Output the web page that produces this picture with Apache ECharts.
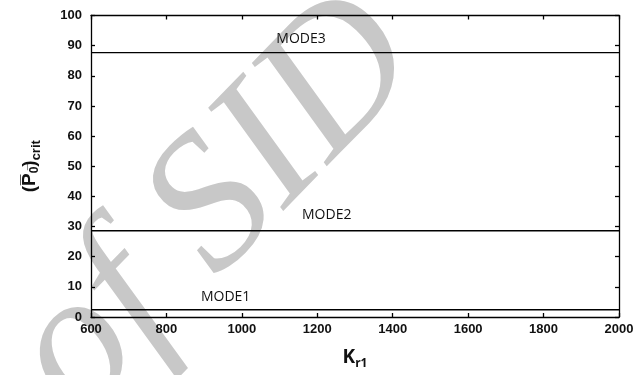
<!DOCTYPE html>
<html><head><meta charset="utf-8">
<script src="https://cdn.jsdelivr.net/npm/echarts@6/dist/echarts.min.js"></script>
<style>html,body{margin:0;padding:0;background:#fff}#c{width:644px;height:375px}</style>
</head><body><div id="c"></div>
<script>
// Data
const xRange = [600, 2000];
const xTicks = [600, 800, 1000, 1200, 1400, 1600, 1800, 2000];
const yTicks = [0, 10, 20, 30, 40, 50, 60, 70, 80, 90, 100];
const modeNames = ['MODE1', 'MODE2', 'MODE3'];
const modeValues = [2.4, 28.6, 87.7];
const modeLabelX = [957, 1225, 1157];
const modeLabelY = [6.7, 33.9, 92.2];

const chart = echarts.init(document.getElementById('c'));
const tickFont = {fontFamily: 'Liberation Sans, Arial, sans-serif', fontSize: 13, fontWeight: 'bold', color: '#111'};
const lineStyle = {color: '#000', width: 1.3};

const series = modeNames.map((n, i) => ({
  type: 'line', name: n, symbol: 'none', silent: true,
  data: xRange.map(x => [x, modeValues[i]]),
  lineStyle: {color: '#000', width: 1.3},
  z: 10,
  markPoint: {
    symbol: 'circle', symbolSize: 0, silent: true,
    data: [{coord: [modeLabelX[i], modeLabelY[i]], value: n}],
    label: {show: true, position: 'inside', formatter: n,
      fontFamily: 'Open Sans, sans-serif', fontSize: 14, color: '#111'}
  }
}));

chart.setOption({
  animation: false,
  backgroundColor: '#fff',
  grid: {left: 91, right: 25, top: 15.5, bottom: 57.5, show: false},
  xAxis: [{
    type: 'value', min: 600, max: 2000, interval: 200, z: 10,
    axisLine: {onZero: false, lineStyle: lineStyle},
    axisTick: {inside: true, length: 4, lineStyle: lineStyle},
    axisLabel: Object.assign({margin: 6, formatter: v => xTicks.includes(v) ? String(v) : ''}, tickFont),
    splitLine: {show: false},
    name: '{k|K}{s|r1}', nameLocation: 'middle', nameGap: 26,
    nameTextStyle: {rich: {
      k: {fontFamily: 'Open Sans, sans-serif', fontWeight: 'bold', fontSize: 19, color: '#111', verticalAlign: 'bottom', lineHeight: 24},
      s: {fontFamily: 'Open Sans, sans-serif', fontWeight: 'bold', fontSize: 12, color: '#111', verticalAlign: 'bottom', lineHeight: 14, padding: [0,0,-3,0]}
    }}
  }, {
    type: 'value', min: 600, max: 2000, interval: 200, position: 'top', z: 10,
    axisLine: {show: true, onZero: false, lineStyle: lineStyle},
    axisTick: {show: true, inside: true, length: 4, lineStyle: lineStyle},
    axisLabel: {show: false}, splitLine: {show: false}
  }],
  yAxis: [{
    type: 'value', min: 0, max: 100, interval: 10, z: 10,
    axisLine: {show: true, onZero: false, lineStyle: lineStyle},
    axisTick: {show: true, inside: true, length: 4, lineStyle: lineStyle},
    axisLabel: Object.assign({margin: 9, formatter: v => yTicks.includes(v) ? String(v) : ''}, tickFont),
    splitLine: {show: false},
    name: '{p|(P\u0305}{s|0\u0305}{p|)}{c|crit}', nameLocation: 'middle', nameGap: 52, nameRotate: 90,
    nameTextStyle: {rich: {
      p: {fontFamily: 'Liberation Sans Narrow, Liberation Sans, sans-serif', fontWeight: 'bold', fontSize: 19, color: '#111', verticalAlign: 'bottom', lineHeight: 24},
      s: {fontFamily: 'Liberation Sans Narrow, Liberation Sans, sans-serif', fontWeight: 'bold', fontSize: 12, color: '#111', verticalAlign: 'bottom', lineHeight: 14, padding: [0,0,-2,0]},
      c: {fontFamily: 'Liberation Sans Narrow, Liberation Sans, sans-serif', fontWeight: 'bold', fontSize: 13, color: '#111', verticalAlign: 'bottom', lineHeight: 14, padding: [0,0,-4,0]}
    }}
  }, {
    type: 'value', min: 0, max: 100, interval: 10, position: 'right', z: 10,
    axisLine: {show: true, onZero: false, lineStyle: lineStyle},
    axisTick: {show: true, inside: true, length: 4, lineStyle: lineStyle},
    axisLabel: {show: false}, splitLine: {show: false}
  }],
  graphic: [{
    type: 'text', z: 0, silent: true,
    x: 216, y: 208, rotation: 0.8,
    style: {text: 'of SID', fontFamily: 'Liberation Serif, serif', fontStyle: 'italic', fontSize: 192,
      fill: '#c8c8c8', textAlign: 'center', textVerticalAlign: 'middle'}
  }],
  series: series
});
</script></body></html>
